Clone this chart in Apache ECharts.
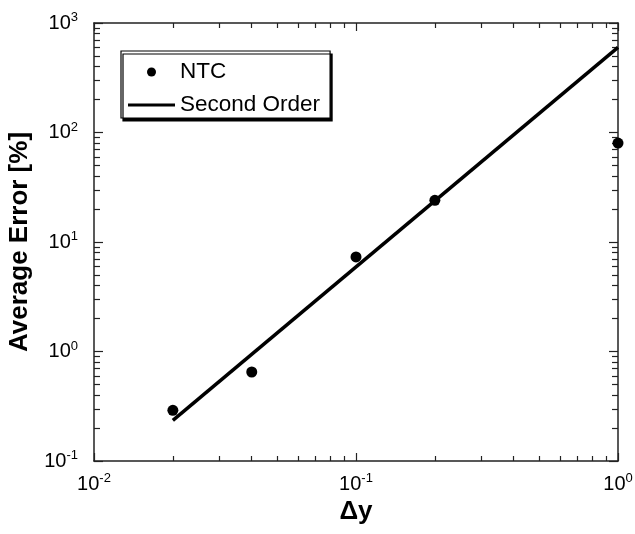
<!DOCTYPE html>
<html>
<head>
<meta charset="utf-8">
<script src="https://cdn.jsdelivr.net/npm/echarts@6/dist/echarts.min.js"></script>
<style>
  html, body { margin: 0; padding: 0; background: #fff; }
  #chart { width: 635px; height: 534px; }
</style>
</head>
<body>
<div id="chart"></div>
<script>
// Measured average error of the NTC scheme versus grid spacing
const dy = [0.02, 0.04, 0.1, 0.2, 1];
const ntcError = [0.29, 0.65, 7.3, 24, 80];

// Second-order reference slope (error ~ dy^2)
const fitDy = [0.02, 1];
const fitError = [0.235, 600];

// Decade tick values and the 2..9 minor ticks between them
const xMajor = [0.01, 0.1, 1];
const xMinor = [0.02, 0.03, 0.04, 0.05, 0.06, 0.07, 0.08, 0.09,
                0.2, 0.3, 0.4, 0.5, 0.6, 0.7, 0.8, 0.9];
const yMajor = [0.1, 1, 10, 100, 1000];
const yMinor = [0.2, 0.3, 0.4, 0.5, 0.6, 0.7, 0.8, 0.9,
                2, 3, 4, 5, 6, 7, 8, 9,
                20, 30, 40, 50, 60, 70, 80, 90,
                200, 300, 400, 500, 600, 700, 800, 900];

const FONT = 'Liberation Sans, Arial, Helvetica, sans-serif';
const AXIS_COLOR = '#222';

function powerLabel(v) {
  const e = Math.round(Math.log10(v));
  return '{b|10}{s|' + e + '}';
}
const labelRich = {
  b: { fontSize: 20, fontFamily: FONT, color: '#000' },
  s: { fontSize: 13, fontFamily: FONT, color: '#000', padding: [0, 0, 11, 0] }
};

function xAxisDef(position, ticks, len, withLabels, withLine) {
  return {
    type: 'log', logBase: 10, min: 0.01, max: 1, position: position,
    axisLine: { show: withLine, onZero: false, lineStyle: { color: AXIS_COLOR, width: 1.5 } },
    axisTick: { show: true, inside: true, length: len, customValues: ticks,
                lineStyle: { color: AXIS_COLOR, width: 1.2 } },
    axisLabel: withLabels
      ? { show: true, customValues: xMajor, formatter: powerLabel, rich: labelRich, margin: 11 }
      : { show: false },
    splitLine: { show: false },
    minorTick: { show: false }
  };
}
function yAxisDef(position, ticks, len, withLabels, withLine) {
  return {
    type: 'log', logBase: 10, min: 0.1, max: 1000, position: position,
    axisLine: { show: withLine, onZero: false, lineStyle: { color: AXIS_COLOR, width: 1.5 } },
    axisTick: { show: true, inside: true, length: len, customValues: ticks,
                lineStyle: { color: AXIS_COLOR, width: 1.2 } },
    axisLabel: withLabels
      ? { show: true, customValues: yMajor, formatter: powerLabel, rich: labelRich, margin: 16 }
      : { show: false },
    splitLine: { show: false },
    minorTick: { show: false }
  };
}

const xMain = xAxisDef('bottom', xMajor, 8, true, true);
xMain.name = 'Δy';
xMain.nameLocation = 'middle';
xMain.nameGap = 34;
xMain.nameTextStyle = { fontSize: 26, fontWeight: 'bold', fontFamily: FONT, color: '#000' };

const yMain = yAxisDef('left', yMajor, 9, true, true);
yMain.name = 'Average Error [%]';
yMain.nameLocation = 'middle';
yMain.nameGap = 61;
yMain.nameTextStyle = { fontSize: 26, fontWeight: 'bold', fontFamily: FONT, color: '#000' };

const chart = echarts.init(document.getElementById('chart'), null, { renderer: 'canvas' });
chart.setOption({
  animation: false,
  backgroundColor: '#fff',
  grid: { left: 94, right: 17, top: 23, bottom: 73, containLabel: false, outerBoundsMode: 'none' },
  xAxis: [
    xMain,
    xAxisDef('bottom', xMinor, 5, false, false),
    xAxisDef('top', xMajor, 8, false, true),
    xAxisDef('top', xMinor, 5, false, false)
  ],
  yAxis: [
    yMain,
    yAxisDef('left', yMinor, 6, false, false),
    yAxisDef('right', yMajor, 9, false, true),
    yAxisDef('right', yMinor, 6, false, false)
  ],
  legend: {
    orient: 'vertical',
    left: 121, top: 51,
    padding: [9, 10, 1, 7],
    itemGap: 9,
    itemWidth: 47, itemHeight: 9,
    backgroundColor: '#fff',
    borderColor: '#000', borderWidth: 1.2, borderRadius: 0,
    shadowColor: '#000', shadowBlur: 0, shadowOffsetX: 2, shadowOffsetY: 3,
    textStyle: { fontSize: 22.5, fontFamily: FONT, color: '#000', lineHeight: 24 },
    data: [
      { name: 'NTC', icon: 'circle', itemStyle: { color: '#000', opacity: 1 } },
      { name: 'Second Order', icon: 'path://M0,0L100,0L100,6L0,6Z', itemStyle: { color: '#000', opacity: 1 } }
    ]
  },
  series: [
    {
      name: 'Second Order',
      type: 'line',
      xAxisIndex: 0, yAxisIndex: 0,
      data: fitDy.map((x, i) => [x, fitError[i]]),
      showSymbol: false, symbol: 'none',
      lineStyle: { color: '#000', width: 3.5 },
      itemStyle: { color: '#000' },
      z: 2
    },
    {
      name: 'NTC',
      type: 'scatter',
      xAxisIndex: 0, yAxisIndex: 0,
      data: dy.map((x, i) => [x, ntcError[i]]),
      symbol: 'circle', symbolSize: 11,
      itemStyle: { color: '#000', opacity: 1 },
      z: 3
    }
  ]
});
</script>
</body>
</html>
